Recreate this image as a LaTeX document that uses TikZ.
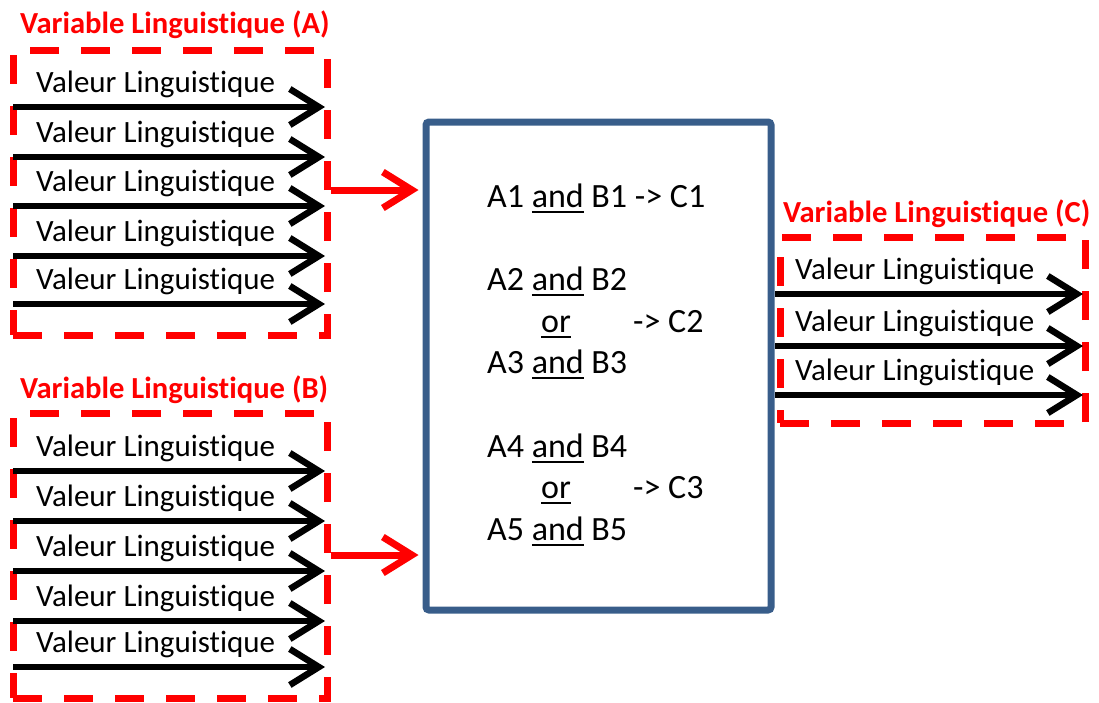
\documentclass[tikz,border=0pt]{standalone}
\usepackage{fontspec}
\setmainfont{Carlito}[RawFeature={-liga;-clig;-dlig;-calt}]
\usetikzlibrary{arrows.meta}
\definecolor{boxblue}{RGB}{56,93,138}
\definecolor{vred}{RGB}{255,0,0}
\newcommand{\myul}[1]{\setbox0\hbox{#1}\rlap{\rule[-6pt]{\wd0}{2.5pt}}\box0\relax}
\begin{document}
\begin{tikzpicture}[x=1pt,y=-1pt,
  dashbox/.style={draw=vred, line width=7pt, dash pattern=on 29pt off 22pt, inner sep=0pt},
  valarrow/.style={draw=black, line width=6.5pt, -{Straight Barb[length=29pt,width=36pt]}},
  redarrow/.style={draw=vred, line width=7pt, -{Straight Barb[length=29pt,width=36pt]}},
  vallabel/.style={font=\fontsize{31}{36}\selectfont, anchor=base west, inner sep=0pt},
  vtitle/.style={font=\bfseries\fontsize{30.6}{36}\selectfont, text=vred, anchor=base west, inner sep=0pt},
  ruletext/.style={font=\fontsize{34}{40}\selectfont, anchor=base west, inner sep=0pt},
  rulebox/.style={draw=boxblue, line width=7pt, rounded corners=3pt, inner sep=0pt}]
\useasboundingbox (0,0) rectangle (1099,702);

% Titles
\node[vtitle] (tA) at (20,33) {Variable Linguistique (A)};
\node[vtitle] (tB) at (20,398) {Variable Linguistique (B)};
\node[vtitle] (tC) at (783,222) {Variable Linguistique (C)};

% Dashed boxes
\node[dashbox, minimum width=314pt, minimum height=285pt] (boxA) at (170,192.5) {};
\node[dashbox, minimum width=314pt, minimum height=285pt] (boxB) at (170,555.5) {};
\node[dashbox, minimum width=305pt, minimum height=186pt] (boxC) at (932.5,330) {};

% Rule box
\node[rulebox, minimum width=345pt, minimum height=488pt] (rules) at (598.5,366) {};

% Arrows and labels of A
\foreach \i/\y in {1/107,2/157,3/206,4/256,5/304}{
  \coordinate (as\i) at (13,\y);
  \coordinate (ae\i) at (325,\y);
  \draw[valarrow] (as\i) -- (ae\i);
  \node[vallabel] (la\i) at (36,\y-15) {Valeur Linguistique};
}
% Arrows and labels of B
\foreach \i/\y in {1/471,2/521,3/571,4/621,5/667}{
  \coordinate (bs\i) at (13,\y);
  \coordinate (be\i) at (325,\y);
  \draw[valarrow] (bs\i) -- (be\i);
  \node[vallabel] (lb\i) at (36,\y-15) {Valeur Linguistique};
}
% Arrows and labels of C
\foreach \i/\y in {1/294,2/346,3/395}{
  \coordinate (cs\i) at (775,\y);
  \coordinate (ce\i) at (1083,\y);
  \draw[valarrow] (cs\i) -- (ce\i);
  \node[vallabel] (lc\i) at (795,\y-15) {Valeur Linguistique};
}

% Red connectors
\coordinate (yA) at (0,190);
\coordinate (yB) at (0,555);
\draw[redarrow, shorten >=4pt] (boxA.east |- yA) -- (rules.west |- yA);
\draw[redarrow, shorten >=4pt] (boxB.east |- yB) -- (rules.west |- yB);

% Rule text
\node[ruletext] (r1) at (487,207) {A1 \myul{and} B1 -> C1};
\node[ruletext] (r2) at (487,290) {A2 \myul{and} B2};
\node[ruletext] (r2o) at (541,332) {\myul{or}};
\node[ruletext] (r2c) at (633,332) {-> C2};
\node[ruletext] (r3) at (487,373) {A3 \myul{and} B3};
\node[ruletext] (r4) at (487,457) {A4 \myul{and} B4};
\node[ruletext] (r4o) at (541,498) {\myul{or}};
\node[ruletext] (r4c) at (633,498) {-> C3};
\node[ruletext] (r5) at (487,540) {A5 \myul{and} B5};
\end{tikzpicture}
\end{document}
